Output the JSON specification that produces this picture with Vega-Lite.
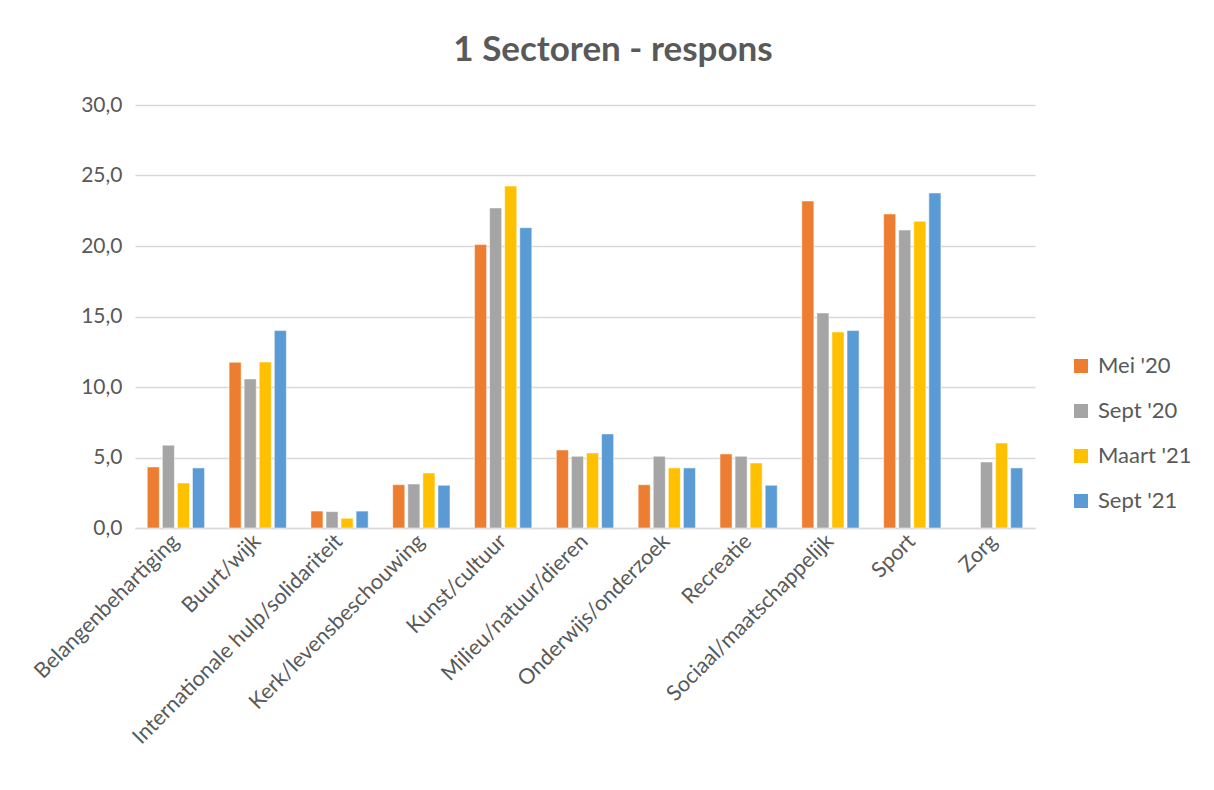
{
  "$schema": "https://vega.github.io/schema/vega-lite/v6.json",
  "autosize": "none",
  "width": 900,
  "height": 423,
  "padding": {"left": 135, "top": 105, "right": 179, "bottom": 262},
  "background": "white",
  "title": {
    "text": "1 Sectoren - respons",
    "font": "Lato",
    "fontSize": 35,
    "fontWeight": "bold",
    "color": "#595959",
    "anchor": "middle",
    "dx": 28,
    "offset": 26
  },
  "data": {
    "values": [
      {"sector": "Belangenbehartiging", "periode": "Mei '20", "waarde": 4.33},
      {"sector": "Belangenbehartiging", "periode": "Sept '20", "waarde": 5.87},
      {"sector": "Belangenbehartiging", "periode": "Maart '21", "waarde": 3.19},
      {"sector": "Belangenbehartiging", "periode": "Sept '21", "waarde": 4.26},
      {"sector": "Buurt/wijk", "periode": "Mei '20", "waarde": 11.75},
      {"sector": "Buurt/wijk", "periode": "Sept '20", "waarde": 10.57},
      {"sector": "Buurt/wijk", "periode": "Maart '21", "waarde": 11.77},
      {"sector": "Buurt/wijk", "periode": "Sept '21", "waarde": 14.0},
      {"sector": "Internationale hulp/solidariteit", "periode": "Mei '20", "waarde": 1.2},
      {"sector": "Internationale hulp/solidariteit", "periode": "Sept '20", "waarde": 1.16},
      {"sector": "Internationale hulp/solidariteit", "periode": "Maart '21", "waarde": 0.69},
      {"sector": "Internationale hulp/solidariteit", "periode": "Sept '21", "waarde": 1.2},
      {"sector": "Kerk/levensbeschouwing", "periode": "Mei '20", "waarde": 3.07},
      {"sector": "Kerk/levensbeschouwing", "periode": "Sept '20", "waarde": 3.12},
      {"sector": "Kerk/levensbeschouwing", "periode": "Maart '21", "waarde": 3.9},
      {"sector": "Kerk/levensbeschouwing", "periode": "Sept '21", "waarde": 3.03},
      {"sector": "Kunst/cultuur", "periode": "Mei '20", "waarde": 20.1},
      {"sector": "Kunst/cultuur", "periode": "Sept '20", "waarde": 22.7},
      {"sector": "Kunst/cultuur", "periode": "Maart '21", "waarde": 24.25},
      {"sector": "Kunst/cultuur", "periode": "Sept '21", "waarde": 21.3},
      {"sector": "Milieu/natuur/dieren", "periode": "Mei '20", "waarde": 5.53},
      {"sector": "Milieu/natuur/dieren", "periode": "Sept '20", "waarde": 5.08},
      {"sector": "Milieu/natuur/dieren", "periode": "Maart '21", "waarde": 5.32},
      {"sector": "Milieu/natuur/dieren", "periode": "Sept '21", "waarde": 6.67},
      {"sector": "Onderwijs/onderzoek", "periode": "Mei '20", "waarde": 3.07},
      {"sector": "Onderwijs/onderzoek", "periode": "Sept '20", "waarde": 5.08},
      {"sector": "Onderwijs/onderzoek", "periode": "Maart '21", "waarde": 4.26},
      {"sector": "Onderwijs/onderzoek", "periode": "Sept '21", "waarde": 4.26},
      {"sector": "Recreatie", "periode": "Mei '20", "waarde": 5.25},
      {"sector": "Recreatie", "periode": "Sept '20", "waarde": 5.08},
      {"sector": "Recreatie", "periode": "Maart '21", "waarde": 4.61},
      {"sector": "Recreatie", "periode": "Sept '21", "waarde": 3.03},
      {"sector": "Sociaal/maatschappelijk", "periode": "Mei '20", "waarde": 23.19},
      {"sector": "Sociaal/maatschappelijk", "periode": "Sept '20", "waarde": 15.25},
      {"sector": "Sociaal/maatschappelijk", "periode": "Maart '21", "waarde": 13.9},
      {"sector": "Sociaal/maatschappelijk", "periode": "Sept '21", "waarde": 14.0},
      {"sector": "Sport", "periode": "Mei '20", "waarde": 22.27},
      {"sector": "Sport", "periode": "Sept '20", "waarde": 21.13},
      {"sector": "Sport", "periode": "Maart '21", "waarde": 21.75},
      {"sector": "Sport", "periode": "Sept '21", "waarde": 23.76},
      {"sector": "Zorg", "periode": "Sept '20", "waarde": 4.68},
      {"sector": "Zorg", "periode": "Maart '21", "waarde": 6.03},
      {"sector": "Zorg", "periode": "Sept '21", "waarde": 4.26}
    ]
  },
  "mark": {"type": "bar", "stroke": "white", "strokeWidth": 0.5},
  "encoding": {
    "x": {
      "field": "sector",
      "type": "nominal",
      "sort": null,
      "scale": {"paddingInner": 0.3, "paddingOuter": 0.15},
      "axis": {
        "title": null,
        "labelAngle": -45,
        "labelAlign": "right",
        "labelBaseline": "middle",
        "labelFont": "Lato",
        "labelFontSize": 21.5,
        "labelColor": "#595959",
        "labelPadding": 10,
        "ticks": false,
        "domainColor": "#d9d9d9",
        "domainWidth": 1.5,
        "labelLimit": 400
      }
    },
    "xOffset": {
      "field": "periode",
      "type": "nominal",
      "sort": ["Mei '20", "Sept '20", "Maart '21", "Sept '21"],
      "scale": {"paddingInner": 0.2}
    },
    "y": {
      "field": "waarde",
      "type": "quantitative",
      "scale": {"domain": [0, 30], "nice": false},
      "axis": {
        "title": null,
        "values": [0, 5, 10, 15, 20, 25, 30],
        "labelExpr": "replace(format(datum.value, '.1f'), '.', ',')",
        "labelFont": "Lato",
        "labelFontSize": 21,
        "labelColor": "#595959",
        "labelPadding": 13,
        "ticks": false,
        "domain": false,
        "gridColor": "#d9d9d9",
        "gridWidth": 1.5
      }
    },
    "color": {
      "field": "periode",
      "type": "nominal",
      "scale": {
        "domain": ["Mei '20", "Sept '20", "Maart '21", "Sept '21"],
        "range": ["#ED7D31", "#A5A5A5", "#FFC000", "#5B9BD5"]
      },
      "legend": {
        "title": null,
        "orient": "none",
        "legendX": 935,
        "legendY": 250,
        "symbolType": "square",
        "symbolSize": 196,
        "symbolStrokeWidth": 0,
        "labelFont": "Lato",
        "labelFontSize": 22,
        "labelColor": "#595959",
        "rowPadding": 23,
        "labelOffset": 6
      }
    }
  },
  "config": {"view": {"stroke": null}}
}
